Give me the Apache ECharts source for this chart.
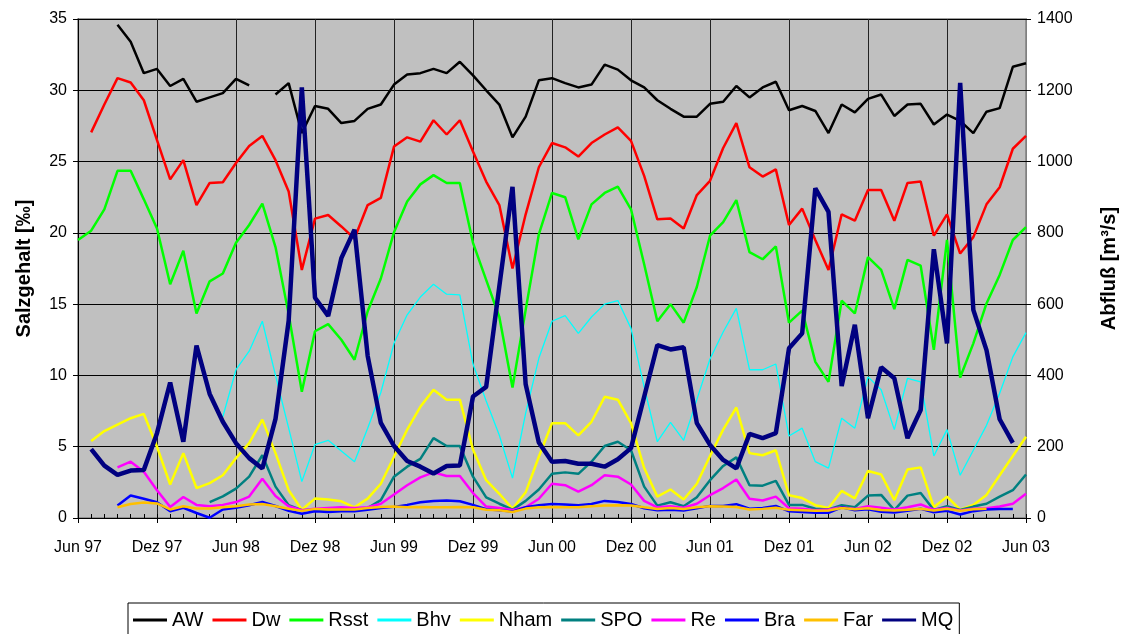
<!DOCTYPE html>
<html>
<head>
<meta charset="utf-8">
<title>Salzgehalt und Abfluß</title>
<script src="https://cdn.jsdelivr.net/npm/echarts@6/dist/echarts.min.js"></script>
<style>
  html, body { margin: 0; padding: 0; background: #fff; }
  #main { width: 1127px; height: 634px; }
</style>
</head>
<body>
<div id="main"></div>
<script>
// months Jun 97 .. Jun 03
var monthNames = ['Jan', 'Feb', 'Mär', 'Apr', 'Mai', 'Jun', 'Jul', 'Aug', 'Sep', 'Okt', 'Nov', 'Dez'];
var months = [];
for (var i = 0; i < 73; i++) {
    var m = (5 + i) % 12;
    var y = (97 + Math.floor((5 + i) / 12)) % 100;
    months.push(monthNames[m] + ' ' + (y < 10 ? '0' + y : y));
}

// salinity [‰], left axis
var aw = [null, null, null, 34.6, 33.4, 31.2, 31.5, 30.3, 30.8, 29.2, 29.5, 29.8, 30.8, 30.35, null, 29.7, 30.5, 27.0, 28.9, 28.7, 27.7, 27.85, 28.7, 29.0, 30.4, 31.1, 31.2, 31.5, 31.2, 32.0, 31.05, 30.0, 29.0, 26.7, 28.15, 30.7, 30.85, 30.5, 30.2, 30.4, 31.8, 31.45, 30.7, 30.2, 29.3, 28.7, 28.15, 28.15, 29.05, 29.2, 30.3, 29.5, 30.2, 30.6, 28.6, 28.9, 28.55, 27.0, 29.0, 28.45, 29.4, 29.7, 28.2, 29.0, 29.05, 27.6, 28.3, 27.85, 27.0, 28.5, 28.75, 31.65, 31.9];
var dw = [null, 27.05, 29.0, 30.85, 30.55, 29.3, 26.5, 23.75, 25.1, 21.95, 23.5, 23.55, 24.9, 26.1, 26.8, 25.1, 22.9, 17.4, 21.0, 21.25, 20.45, 19.6, 21.95, 22.45, 26.05, 26.7, 26.4, 27.9, 26.9, 27.9, 25.7, 23.6, 21.95, 17.5, 21.3, 24.6, 26.3, 26.0, 25.35, 26.3, 26.9, 27.4, 26.45, 24.0, 20.95, 21.0, 20.3, 22.65, 23.65, 25.95, 27.7, 24.6, 23.95, 24.45, 20.55, 21.7, 19.5, 17.4, 21.3, 20.85, 23.0, 23.0, 20.85, 23.5, 23.6, 19.8, 21.3, 18.55, 19.7, 22.0, 23.2, 25.9, 26.8];
var rsst = [19.5, 20.15, 21.65, 24.35, 24.35, 22.35, 20.3, 16.4, 18.75, 14.35, 16.6, 17.15, 19.3, 20.55, 22.05, 19.0, 14.3, 8.85, 13.1, 13.6, 12.5, 11.1, 14.5, 16.8, 20.05, 22.2, 23.4, 24.05, 23.5, 23.5, 19.3, 16.7, 14.1, 9.15, 14.6, 19.9, 22.8, 22.5, 19.55, 22.0, 22.8, 23.25, 21.65, 17.8, 13.8, 15.0, 13.7, 16.2, 19.8, 20.75, 22.3, 18.65, 18.15, 19.05, 13.7, 14.55, 10.95, 9.55, 15.25, 14.35, 18.3, 17.4, 14.65, 18.1, 17.7, 11.8, 19.5, 9.85, 12.25, 15.05, 17.05, 19.5, 20.4];
var bhv = [null, null, null, null, null, null, null, null, null, null, null, 7.1, 10.4, 11.7, 13.8, 10.0, 6.3, 2.55, 5.15, 5.45, 4.7, 3.95, 6.3, 8.8, 12.25, 14.25, 15.5, 16.4, 15.7, 15.65, 10.8, 8.2, 5.8, 2.8, 7.35, 11.2, 13.8, 14.2, 12.95, 14.1, 15.0, 15.25, 13.3, 9.2, 5.35, 6.7, 5.45, 8.3, 11.15, 13.05, 14.7, 10.4, 10.4, 10.8, 5.75, 6.3, 3.95, 3.5, 7.0, 6.3, 9.9, 9.0, 6.2, 9.8, 9.55, 4.35, 6.2, 3.0, 4.75, 6.5, 8.75, 11.3, 13.0];
var nham = [null, 5.4, 6.1, 6.55, 7.0, 7.3, 5.0, 2.35, 4.55, 2.1, 2.45, 3.0, 4.2, 5.25, 6.9, 4.55, 1.95, 0.58, 1.36, 1.3, 1.17, 0.75, 1.36, 2.4, 4.3, 6.2, 7.8, 9.0, 8.3, 8.3, 4.8, 2.65, 1.7, 0.65, 1.8, 4.3, 6.65, 6.65, 5.8, 6.75, 8.5, 8.3, 6.65, 3.5, 1.5, 2.0, 1.3, 2.4, 4.35, 6.2, 7.75, 4.55, 4.4, 4.75, 1.6, 1.4, 0.9, 0.7, 1.9, 1.38, 3.3, 3.05, 1.25, 3.4, 3.55, 0.75, 1.5, 0.58, 0.92, 1.62, 3.0, 4.35, 5.7];
var spo = [null, null, null, null, null, null, null, null, null, null, 1.12, 1.52, 2.06, 2.9, 4.4, 2.2, 0.9, 0.55, 0.6, 0.6, 0.62, 0.6, 0.7, 1.25, 2.9, 3.6, 4.15, 5.6, 5.05, 5.05, 2.9, 1.45, 1.0, 0.58, 1.2, 2.0, 3.1, 3.2, 3.1, 3.95, 5.05, 5.35, 4.75, 2.2, 0.87, 1.1, 0.83, 1.45, 2.65, 3.65, 4.25, 2.3, 2.27, 2.6, 0.92, 0.92, 0.65, 0.6, 0.9, 0.75, 1.57, 1.62, 0.55, 1.57, 1.75, 0.56, 0.82, 0.56, 0.8, 1.0, 1.5, 1.95, 3.05];
var re = [null, null, null, 3.55, 3.95, 3.25, 1.95, 0.78, 1.47, 0.92, 0.82, 0.92, 1.12, 1.5, 2.75, 1.55, 0.82, 0.55, 0.65, 0.7, 0.75, 0.7, 0.75, 1.0, 1.65, 2.3, 2.85, 3.2, 2.95, 2.95, 1.75, 0.8, 0.7, 0.56, 0.75, 1.35, 2.4, 2.3, 1.85, 2.3, 3.0, 2.9, 2.35, 1.2, 0.75, 0.83, 0.72, 1.0, 1.6, 2.1, 2.7, 1.35, 1.23, 1.5, 0.68, 0.65, 0.55, 0.6, 0.75, 0.63, 0.82, 0.72, 0.6, 0.75, 0.95, 0.58, 0.7, 0.52, 0.65, 0.68, 0.8, 1.0, 1.7];
var bra = [null, null, null, 0.88, 1.58, 1.35, 1.1, 0.47, 0.72, 0.35, 0.02, 0.6, 0.72, 0.89, 1.12, 0.84, 0.51, 0.3, 0.47, 0.42, 0.47, 0.47, 0.58, 0.7, 0.78, 0.92, 1.1, 1.2, 1.22, 1.18, 0.92, 0.62, 0.54, 0.45, 0.75, 0.89, 0.98, 0.94, 0.9, 0.98, 1.2, 1.12, 0.98, 0.68, 0.54, 0.57, 0.53, 0.68, 0.85, 0.85, 0.97, 0.65, 0.7, 0.85, 0.47, 0.42, 0.36, 0.36, 0.75, 0.55, 0.62, 0.43, 0.38, 0.5, 0.65, 0.4, 0.5, 0.25, 0.48, 0.6, 0.63, 0.63, null];
var far = [null, null, null, 0.75, 0.98, 1.08, 1.02, 0.6, 0.82, 0.66, 0.66, 0.76, 0.83, 0.94, 0.98, 0.83, 0.65, 0.5, 0.64, 0.6, 0.6, 0.6, 0.7, 0.77, 0.8, 0.76, 0.78, 0.75, 0.75, 0.78, 0.75, 0.58, 0.54, 0.42, 0.66, 0.75, 0.78, 0.75, 0.75, 0.82, 0.87, 0.89, 0.88, 0.75, 0.63, 0.7, 0.63, 0.75, 0.82, 0.8, 0.77, 0.6, 0.64, 0.72, 0.57, 0.54, 0.5, 0.52, 0.7, 0.62, 0.68, 0.56, 0.53, 0.58, 0.65, 0.53, 0.65, 0.5, 0.62, 0.65, null, null, null];

// discharge [m³/s], right axis
var mq = [null, 193, 147, 121, 133, 135, 238, 380, 214, 484, 348, 270, 210, 168, 139, 278, 553, 1208, 618, 567, 729, 809, 455, 267, 202, 160, 144, 125, 146, 147, 341, 368, 650, 929, 375, 212, 158, 160, 152, 152, 144, 165, 196, 340, 485, 473, 479, 266, 205, 163, 139, 236, 224, 238, 476, 518, 925, 859, 370, 542, 280, 423, 392, 224, 303, 754, 490, 1221, 584, 471, 277, 211, null];

var font = 'Liberation Sans, Arial, sans-serif';

function line(name, data, color, width, axis) {
    return {
        name: name,
        type: 'line',
        data: data,
        yAxisIndex: axis || 0,
        symbol: 'none',
        connectNulls: false,
        lineStyle: { color: color, width: width },
        itemStyle: { color: color },
        animation: false
    };
}

var chart = echarts.init(document.getElementById('main'));

chart.setOption({
    backgroundColor: '#fff',
    textStyle: { fontFamily: font },
    grid: {
        left: 78, right: 99, top: 19, bottom: 116,
        show: true, backgroundColor: '#c0c0c0',
        borderColor: '#808080', borderWidth: 1.5
    },
    legend: {
        left: 128, top: 603,
        icon: 'rect',
        itemWidth: 34, itemHeight: 3, itemGap: 9,
        padding: [7, 6, 10, 5],
        borderColor: '#000', borderWidth: 1,
        textStyle: { fontSize: 20, color: '#000', fontFamily: font },
        data: ['AW', 'Dw', 'Rsst', 'Bhv', 'Nham', 'SPO', 'Re', 'Bra', 'Far', 'MQ']
    },
    xAxis: [{
        type: 'category',
        data: months,
        boundaryGap: false,
        axisLine: { lineStyle: { color: '#000', width: 1 } },
        axisTick: { interval: 5, length: 5, lineStyle: { color: '#000' } },
        axisLabel: { interval: 5, fontSize: 16, color: '#000', margin: 22 },
        splitLine: { show: true, interval: 5, lineStyle: { color: '#222', width: 1 } }
    }, {
        type: 'category',
        data: months,
        boundaryGap: false,
        position: 'bottom',
        axisLine: { show: false },
        axisTick: { interval: 0, inside: true, length: 4, lineStyle: { color: '#000' } },
        axisLabel: { show: false },
        splitLine: { show: false }
    }],
    yAxis: [{
        type: 'value',
        min: 0, max: 35, interval: 5,
        name: 'Salzgehalt [‰]',
        nameLocation: 'middle', nameGap: 44, nameRotate: 90,
        nameTextStyle: { fontSize: 20, fontWeight: 'bold', color: '#000' },
        axisLine: { show: true, lineStyle: { color: '#000' } },
        axisTick: { show: true, length: 5, lineStyle: { color: '#000' } },
        axisLabel: { fontSize: 16, color: '#000', margin: 11 },
        splitLine: { show: true, lineStyle: { color: '#000', width: 1 } }
    }, {
        type: 'value',
        min: 0, max: 1400, interval: 200,
        name: 'Abfluß [m³/s]',
        nameLocation: 'middle', nameGap: 73, nameRotate: 90,
        nameTextStyle: { fontSize: 20, fontWeight: 'bold', color: '#000' },
        axisLine: { show: true, lineStyle: { color: '#808080' } },
        axisTick: { show: true, length: 5, lineStyle: { color: '#000' } },
        axisLabel: { fontSize: 16, color: '#000', margin: 11, formatter: function (v) { return String(v); } },
        splitLine: { show: false }
    }],
    series: [
        line('AW', aw, '#000000', 2.5),
        line('Dw', dw, '#ff0000', 2.5),
        line('Rsst', rsst, '#00ff00', 2.5),
        line('Bhv', bhv, '#00ffff', 1.3),
        line('Nham', nham, '#ffff00', 2.5),
        line('SPO', spo, '#008080', 2.5),
        line('Re', re, '#ff00ff', 2.5),
        line('Bra', bra, '#0000ff', 2.5),
        line('Far', far, '#ffc000', 2.5),
        line('MQ', mq, '#000080', 4.5, 1)
    ]
});
</script>
</body>
</html>
